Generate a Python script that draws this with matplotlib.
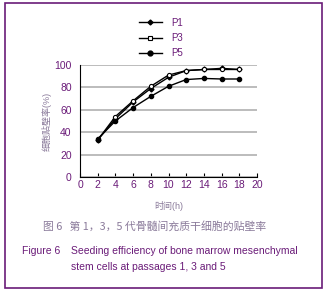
import numpy as np
import matplotlib.pyplot as plt
from matplotlib.patches import Rectangle
from matplotlib.lines import Line2D

plt.rcParams['font.family'] = ['Liberation Sans', 'Noto Sans CJK SC', 'DejaVu Sans']

hours = [2, 4, 6, 8, 10, 12, 14, 16, 18]
p1 = [33, 52, 67, 79, 89, 95, 96, 97, 96]
p3 = [33, 54, 68, 81, 91, 95, 96, 96, 96]
p5 = [34, 50, 62, 72, 81, 87, 88, 87.5, 87.5]

purple = '#6a1b78'
grey_purple = '#8a7a9a'

fig = plt.figure(figsize=(3.28, 2.93), dpi=100)

# purple frame around the whole figure
fig.patches.append(Rectangle((5 / 328, 1 - 288 / 293), 317 / 328, 285 / 293,
                             transform=fig.transFigure, fill=False,
                             edgecolor=purple, linewidth=1.2))

ax = fig.add_axes([80 / 328, 116 / 293, 177 / 328, 112 / 293])
ax.plot(hours, p1, color='black', lw=1.0, marker='D', ms=2.5, mfc='black')
ax.plot(hours, p3, color='black', lw=1.0, marker='o', ms=3, mfc='white', mew=0.8)
ax.plot(hours, p5, color='black', lw=1.0, marker='o', ms=3, mfc='black')

ax.set_xlim(0, 20)
ax.set_ylim(0, 100)
ax.set_xticks(np.arange(0, 21, 2))
ax.set_yticks(np.arange(0, 101, 20))
ax.yaxis.grid(True, color='#b0b0b0', lw=1.2)
ax.set_axisbelow(True)
for s in ['top', 'right']:
    ax.spines[s].set_visible(False)
ax.spines['left'].set_linewidth(0.8)
ax.spines['bottom'].set_linewidth(0.8)
ax.tick_params(axis='y', length=0, labelsize=7.5, labelcolor=purple, pad=6)
ax.tick_params(axis='x', length=3, direction='in', labelsize=7.5, labelcolor=purple, pad=2)

ax.set_ylabel('细胞贴壁率(%)', fontsize=6.5, color=grey_purple, labelpad=2)
ax.set_xlabel('时间(h)', fontsize=6.5, color=grey_purple, labelpad=8)

# legend drawn at top
handles = [
    Line2D([], [], color='black', lw=1.0, marker='D', ms=2.5, mfc='black'),
    Line2D([], [], color='black', lw=1.0, marker='s', ms=3.5, mfc='white', mew=0.8),
    Line2D([], [], color='black', lw=1.0, marker='o', ms=3.5, mfc='black'),
]
leg = fig.legend(handles, ['P1', 'P3', 'P5'], loc='upper left',
                 bbox_to_anchor=(130 / 328, 1 - 9 / 293), frameon=False,
                 fontsize=7, handlelength=2.4, labelspacing=0.55, handletextpad=0.9)
for t in leg.get_texts():
    t.set_color(purple)

fig.text(43 / 328, 1 - 226 / 293, '图 6   第 1，3，5 代骨髓间充质干细胞的贴壁率',
         fontsize=7.8, color=grey_purple, va='center',
         family=['Noto Sans CJK SC', 'DejaVu Sans'])
fig.text(22 / 328, 1 - 251 / 293, 'Figure 6', fontsize=7.5, color=purple, va='center')
fig.text(71 / 328, 1 - 251 / 293, 'Seeding efficiency of bone marrow mesenchymal',
         fontsize=7.5, color=purple, va='center')
fig.text(71 / 328, 1 - 267 / 293, 'stem cells at passages 1, 3 and 5',
         fontsize=7.5, color=purple, va='center')

fig.savefig('out.png', dpi=100)
